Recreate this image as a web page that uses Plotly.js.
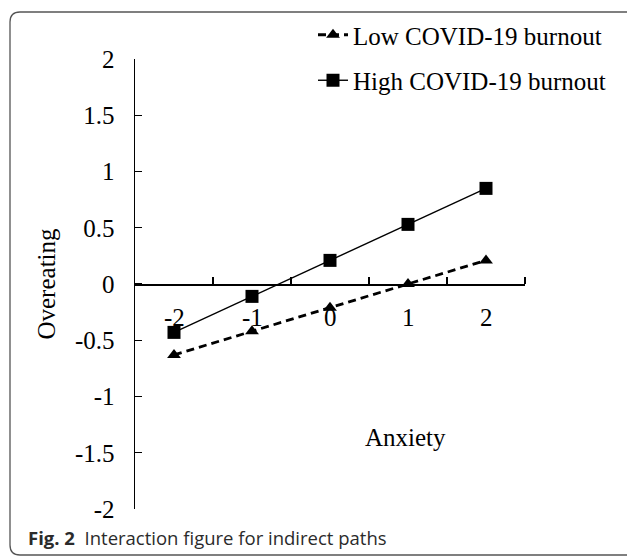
<!DOCTYPE html>
<html>
<head>
<meta charset="utf-8">
<script src="https://cdn.plot.ly/plotly-3.0.1.min.js"></script>
<style>html,body{margin:0;padding:0;background:#fff;}#chart{width:627px;height:557px;}</style>
</head>
<body>
<div id="chart"></div>
<script>
const categories = [-2, -1, 0, 1, 2];
const categoryLabels = ['-2', '-1', '0', '1', '2'];
const lowBurnout = [-0.63, -0.42, -0.21, 0.00, 0.21];
const highBurnout = [-0.43, -0.11, 0.21, 0.53, 0.85];
const yTickVals = [-2, -1.5, -1, -0.5, 0, 0.5, 1, 1.5, 2];
const yTickText = ['-2', '-1.5', '-1', '-0.5', '0', '0.5', '1', '1.5', '2'];
const xBoundaries = [-1.5, -0.5, 0.5, 1.5, 2.5];
const seriesNames = ['Low COVID-19 burnout', 'High COVID-19 burnout'];

const W = 627, H = 557;
const M = {l: 135, r: 102, t: 59, b: 48};
const PW = W - M.l - M.r, PH = H - M.t - M.b;
const px = x => (x - M.l) / PW;
const py = y => (H - M.b - y) / PH;

const serif = 'Liberation Serif, Times New Roman, serif';

// rounded frame path in paper coords
function framePath(x0, y0, x1, y1, r) {
  return 'M' + px(x0 + r) + ',' + py(y0) +
    ' L' + px(x1) + ',' + py(y0) +
    ' M' + px(x0 + r) + ',' + py(y0) +
    ' Q' + px(x0) + ',' + py(y0) + ' ' + px(x0) + ',' + py(y0 + r) +
    ' L' + px(x0) + ',' + py(y1 - r) +
    ' Q' + px(x0) + ',' + py(y1) + ' ' + px(x0 + r) + ',' + py(y1) +
    ' L' + px(x1) + ',' + py(y1);
}

const traces = [
  {
    x: categories, y: lowBurnout, name: seriesNames[0], type: 'scatter', mode: 'lines+markers',
    line: {color: '#000', width: 2.8, dash: '8px,5px'},
    marker: {symbol: 'triangle-up', size: 12, color: '#000'},
    legendgroup: 'a'
  },
  {
    x: categories, y: highBurnout, name: seriesNames[1], type: 'scatter', mode: 'lines+markers',
    line: {color: '#000', width: 1.4},
    marker: {symbol: 'square', size: 13, color: '#000'},
    legendgroup: 'b'
  }
];

const annotations = categories.map((c, i) => ({
  x: c, y: 0, xref: 'x', yref: 'y', text: categoryLabels[i], showarrow: false,
  yanchor: 'top', yshift: -18, font: {family: serif, size: 25, color: '#000'}
}));
annotations.push({
  x: 1, y: -1.36, xref: 'x', yref: 'y', text: 'Anxiety', showarrow: false,
  xanchor: 'center', yanchor: 'middle', xshift: -3, font: {family: serif, size: 25, color: '#000'}
});
annotations.push({
  x: px(26), y: py(537), xref: 'paper', yref: 'paper', xanchor: 'left', yanchor: 'middle',
  text: '<b>Fig. 2</b>  Interaction figure for indirect paths', showarrow: false,
  font: {family: 'Open Sans, Noto Sans, sans-serif', size: 18.5, color: '#2b2b2b'}
});

const layout = {
  width: W, height: H,
  margin: M,
  paper_bgcolor: '#fff', plot_bgcolor: 'rgba(0,0,0,0)',
  showlegend: true,
  legend: {
    x: px(313), y: py(12), xanchor: 'left', yanchor: 'top',
    font: {family: serif, size: 25, color: '#000'},
    bgcolor: 'rgba(0,0,0,0)', traceorder: 'grouped', tracegroupgap: 10
  },
  xaxis: {
    range: [-2.5, 2.5], anchor: 'free', position: 0.5,
    showline: true, linecolor: '#000', linewidth: 1.5,
    showgrid: false, zeroline: false, fixedrange: true,
    tickmode: 'array', tickvals: categories, ticktext: categoryLabels,
    ticks: '', showticklabels: false,
    minor: {tickmode: 'array', tickvals: xBoundaries, ticks: 'inside', ticklen: 7, tickwidth: 1.3, tickcolor: '#000', showgrid: false}
  },
  yaxis: {
    range: [-2, 2], showline: true, linecolor: '#000', linewidth: 1.5,
    showgrid: false, zeroline: false, fixedrange: true,
    tickmode: 'array', tickvals: yTickVals, ticktext: yTickText,
    ticks: 'inside', ticklen: 7, tickwidth: 1.3, tickcolor: '#000',
    ticklabelstandoff: 14,
    tickfont: {family: serif, size: 25, color: '#000'},
    title: {text: 'Overeating', font: {family: serif, size: 25, color: '#000'}, standoff: 12}
  },
  annotations: annotations,
  shapes: [{
    type: 'path', xref: 'paper', yref: 'paper', path: framePath(10, 12, 640, 555, 10),
    line: {color: '#555', width: 1.3}
  }]
};

Plotly.newPlot('chart', traces, layout, {displayModeBar: false, staticPlot: true});
</script>
</body>
</html>
